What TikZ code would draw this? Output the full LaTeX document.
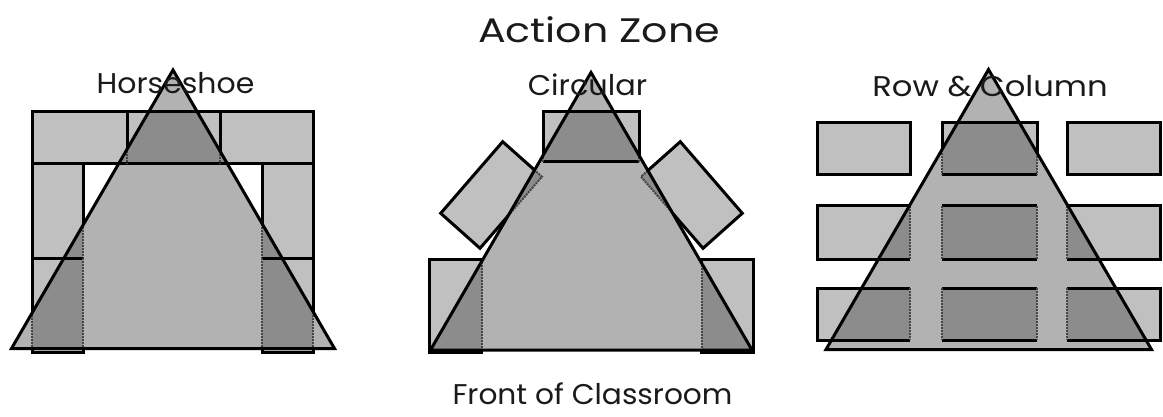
\documentclass[tikz,border=0pt]{standalone}
\usepackage{fontspec}
\setmainfont{Poppins}
\definecolor{deskc}{HTML}{C0C0C0}
\definecolor{zonec}{HTML}{B2B2B2}
\definecolor{overc}{HTML}{8C8C8C}
\definecolor{fuzzc}{HTML}{454545}
\definecolor{txtc}{HTML}{1A1A1A}
\newcommand\mydesk[4]{\filldraw[desk] (#1,#2) rectangle (#3,#4);}
\newcommand\myover[4]{%
  \fill[overc] (#1,#2) rectangle (#3,#4);
  \draw[edge] (#1,#2) -- (#3,#2) (#1,#4) -- (#3,#4);
  \draw[fuzz] (#1,#2) -- (#1,#4) (#3,#2) -- (#3,#4);}
\begin{document}
\begin{tikzpicture}[x=1pt,y=-1pt,
  desk/.style={fill=deskc,draw=black,line width=3pt},
  edge/.style={draw=black,line width=3pt},
  fuzz/.style={draw=fuzzc,line width=2pt,densely dotted},
  zone/.style={fill=zonec},
  zoneline/.style={draw=black,line width=3pt,line join=miter},
  lbl/.style={text=txtc,inner sep=0pt,anchor=base,font=\fontsize{28.5}{34}\selectfont},
  title/.style={text=txtc,inner sep=0pt,anchor=base,font=\fontsize{34}{40}\selectfont}]
\useasboundingbox[fill=white] (0,0) rectangle (1163,417);

% ---------------- Horseshoe ----------------
\mydesk{32}{112}{127}{164}
\mydesk{127}{112}{220}{164}
\mydesk{220}{112}{313}{164}
\mydesk{32}{164}{83}{258}
\mydesk{32}{258}{83}{352}
\mydesk{262}{164}{313}{258}
\mydesk{262}{258}{313}{352}
\coordinate (hA) at (173,70);
\coordinate (hL) at (11.5,348.5);
\coordinate (hR) at (334.5,348.5);
\fill[zone] (hA) -- (hL) -- (hR) -- cycle;
\begin{scope}
\clip (hA) -- (hL) -- (hR) -- cycle;
\myover{32}{112}{127}{164}
\myover{127}{112}{220}{164}
\myover{220}{112}{313}{164}
\myover{32}{164}{83}{258}
\myover{32}{258}{83}{352}
\myover{262}{164}{313}{258}
\myover{262}{258}{313}{352}
\end{scope}
\draw[zoneline] (hA) -- (hL) -- (hR) -- cycle;

% ---------------- Circular ----------------
\coordinate (lT) at (502.7,141.7);
\coordinate (lR) at (542,176.7);
\coordinate (lB) at (480,248.3);
\coordinate (lL) at (440.7,213.3);
\coordinate (rT) at (680.3,141.7);
\coordinate (rL) at (641,176.7);
\coordinate (rB) at (703,248.3);
\coordinate (rR) at (742.3,213.3);
\mydesk{543}{112}{639}{162}
\filldraw[desk] (lT) -- (lR) -- (lB) -- (lL) -- cycle;
\filldraw[desk] (rT) -- (rR) -- (rB) -- (rL) -- cycle;
\mydesk{429.5}{259}{481.5}{352.5}
\mydesk{701.5}{259}{753.5}{352.5}
\coordinate (cA) at (591,72.5);
\coordinate (cL) at (430.5,350);
\coordinate (cR) at (752,350);
\fill[zone] (cA) -- (cL) -- (cR) -- cycle;
\begin{scope}
\clip (cA) -- (cL) -- (cR) -- cycle;
\myover{543}{112}{639}{162}
\fill[overc] (lT) -- (lR) -- (lB) -- (lL) -- cycle;
\draw[fuzz] (lT) -- (lR) -- (lB) -- (lL) -- cycle;
\fill[overc] (rT) -- (rR) -- (rB) -- (rL) -- cycle;
\draw[fuzz] (rT) -- (rR) -- (rB) -- (rL) -- cycle;
\myover{429.5}{259}{481.5}{352.5}
\myover{701.5}{259}{753.5}{352.5}
\end{scope}
\draw[zoneline] (cA) -- (cL) -- (cR) -- cycle;

% ---------------- Row & Column ----------------
\foreach \ya/\yb in {123/175,206/259,288/340}{
  \foreach \xa/\xb in {817/910,942/1037,1067/1160.5}{
    \mydesk{\xa}{\ya}{\xb}{\yb}
  }
}
\coordinate (rcA) at (988.5,69.5);
\coordinate (rcL) at (826,349.5);
\coordinate (rcR) at (1151.5,349.5);
\fill[zone] (rcA) -- (rcL) -- (rcR) -- cycle;
\begin{scope}
\clip (rcA) -- (rcL) -- (rcR) -- cycle;
\foreach \ya/\yb in {123/175,206/259,288/340}{
  \foreach \xa/\xb in {817/910,942/1037,1067/1160.5}{
    \myover{\xa}{\ya}{\xb}{\yb}
  }
}
\end{scope}
\draw[zoneline] (rcA) -- (rcL) -- (rcR) -- cycle;

% ---------------- Labels ----------------
\node[title] (ttl) at (599,42.3) {\scalebox{1.21}[1]{Action Zone}};
\node[lbl] (lh) at (175.5,93.3) {\scalebox{1.05}[1]{Horseshoe}};
\node[lbl] (lc) at (587.5,96) {\scalebox{1.065}[1]{Circular}};
\node[lbl] (lr) at (990,96.5) {\scalebox{1.13}[1]{Row \& Column}};
\node[lbl] (lf) at (592.5,404) {\scalebox{1.04}[1]{Front of Classroom}};
\end{tikzpicture}
\end{document}
